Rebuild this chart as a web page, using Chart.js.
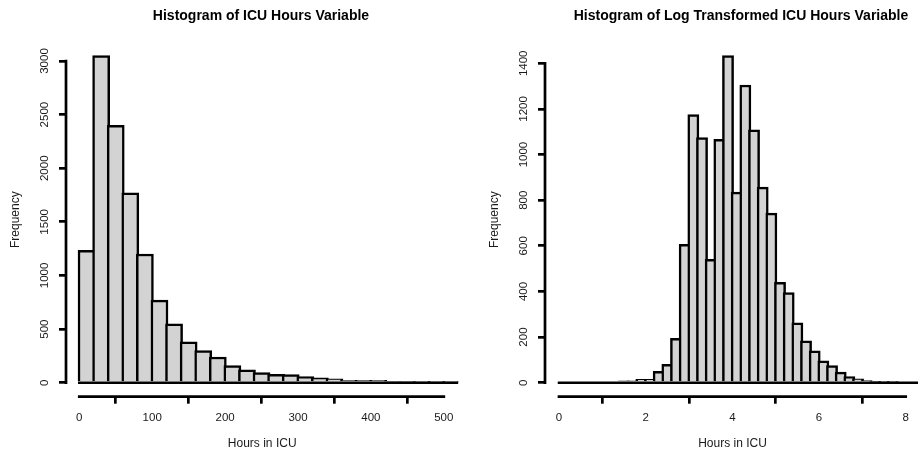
<!DOCTYPE html>
<html>
<head>
<meta charset="utf-8">
<script src="https://cdn.jsdelivr.net/npm/chart.js@4.4.1/dist/chart.umd.min.js"></script>
<style>
    html, body { margin: 0; padding: 0; background: #fff; overflow: hidden; width: 918px; height: 451px; }
    .painel { position: absolute; top: 0; height: 455px; }
</style>
</head>
<body>
<div class="painel" style="left:0; width:522px;"><canvas id="histHoras"></canvas></div>
<div class="painel" style="left:459px; width:564px;"><canvas id="histLog"></canvas></div>

<script>
// ===== DADOS: HORAS NA UTI (bins de 20) =====
const horasInicio = [0, 20, 40, 60, 80, 100, 120, 140, 160, 180, 200, 220, 240,
                     260, 280, 300, 320, 340, 360, 380, 400, 420, 440, 460, 480, 500];
const horasContagem = [1235, 3050, 2400, 1770, 1200, 770, 550, 380, 300, 240, 160, 120, 95,
                       78, 75, 58, 45, 35, 22, 22, 22, 12, 12, 5, 5, 5];
const horasTicksX = [0, 100, 200, 300, 400, 500];
const horasTicksY = [0, 500, 1000, 1500, 2000, 2500, 3000];

// ===== DADOS: LOG DAS HORAS (bins de 0.2) =====
const logInicio = [0, 0.2, 0.4, 0.6, 0.8, 1.0, 1.2, 1.4, 1.6, 1.8, 2.0, 2.2, 2.4, 2.6, 2.8,
                   3.0, 3.2, 3.4, 3.6, 3.8, 4.0, 4.2, 4.4, 4.6, 4.8, 5.0, 5.2, 5.4, 5.6, 5.8,
                   6.0, 6.2, 6.4, 6.6, 6.8, 7.0, 7.2, 7.4, 7.6, 7.8, 8.0, 8.2];
const logContagem = [0, 0, 0, 0, 0, 0, 0, 8, 8, 15, 15, 50, 80, 195, 607,
                     1175, 1074, 541, 1067, 1434, 835, 1305, 1108, 857, 743, 440, 395, 262, 183, 140,
                     96, 75, 46, 27, 17, 9, 5, 4, 3, 0, 0, 0];
const logTicksX = [0, 2, 4, 6, 8];
const logTicksY = [0, 200, 400, 600, 800, 1000, 1200, 1400];

// ===== ESTILO =====
const BORDA = 2.5;
const ALTURA = 455;          // altura do canvas (um pouco maior que a janela)
Chart.defaults.font.family = "'Liberation Sans', Arial, sans-serif";
Chart.defaults.color = '#1a1a1a';

// ===== FUNÇÃO QUE MONTA UM HISTOGRAMA =====
function criarHistograma(idCanvas, cfg) {
    const area = cfg.area;
    const pxPorUnidade = (area.right - area.left) / (cfg.xMax - cfg.xMin);
    const espessura = cfg.largura * pxPorUnidade + BORDA;   // barras se sobrepõem na borda

    const pontos = cfg.inicios.map((x0, i) => ({ x: x0 + cfg.largura / 2, y: cfg.contagens[i] }));

    // eixos no estilo R: linha só entre o primeiro e o último tick, + linha de base das barras
    const eixosR = {
        id: 'eixosR',
        afterDatasetsDraw(chart) {
            const { ctx, chartArea: ca, scales: { x, y } } = chart;
            const fim = cfg.inicios[cfg.inicios.length - 1] + cfg.largura;

            ctx.save();
            ctx.beginPath();
            ctx.rect(ca.left, ca.top, ca.right - ca.left, ca.bottom - ca.top);
            ctx.clip();
            ctx.strokeStyle = '#000';
            ctx.lineWidth = BORDA;
            ctx.beginPath();
            ctx.moveTo(x.getPixelForValue(cfg.inicios[0]) - BORDA / 2, y.getPixelForValue(0));
            ctx.lineTo(x.getPixelForValue(fim), y.getPixelForValue(0));
            ctx.stroke();
            ctx.restore();

            ctx.save();
            ctx.strokeStyle = '#000';
            ctx.lineWidth = 2.7;
            ctx.lineCap = 'square';
            ctx.beginPath();
            ctx.moveTo(ca.left, y.getPixelForValue(cfg.ticksY[0]));
            ctx.lineTo(ca.left, y.getPixelForValue(cfg.ticksY[cfg.ticksY.length - 1]));
            ctx.moveTo(x.getPixelForValue(cfg.ticksX[0]), ca.bottom);
            ctx.lineTo(x.getPixelForValue(cfg.ticksX[cfg.ticksX.length - 1]), ca.bottom);
            ctx.stroke();
            ctx.restore();
        }
    };

    const gradeTicks = { display: true, drawOnChartArea: false, drawTicks: true, tickLength: 7, color: '#000', lineWidth: 2.7 };

    return new Chart(document.getElementById(idCanvas), {
        type: 'bar',
        data: {
            datasets: [{
                data: pontos,
                xAxisID: 'x',
                yAxisID: 'y',
                backgroundColor: '#d3d3d3',
                borderColor: '#000',
                borderWidth: BORDA,
                borderSkipped: 'start',
                barThickness: espessura,
                clip: 0
            }]
        },
        options: {
            responsive: true,
            maintainAspectRatio: false,
            animation: false,
            layout: { padding: 0 },
            plugins: {
                legend: { display: false },
                tooltip: { enabled: false },
                title: {
                    display: true,
                    text: cfg.titulo,
                    color: '#000',
                    font: { size: 14, weight: 'bold' },
                    padding: { top: 8, bottom: area.top - 8 - 16.8 }
                }
            },
            scales: {
                x: {
                    type: 'linear',
                    min: cfg.xMin,
                    max: cfg.xMax,
                    offset: false,
                    afterBuildTicks: s => { s.ticks = cfg.ticksX.map(v => ({ value: v })); },
                    afterFit: s => { s.height = ALTURA - area.bottom; },
                    grid: gradeTicks,
                    border: { display: false },
                    ticks: { autoSkip: false, maxRotation: 0, minRotation: 0, padding: 7,
                             font: { size: 11.5 }, callback: v => String(v) },
                    title: { display: true, text: 'Hours in ICU', font: { size: 12 }, padding: { top: 0, bottom: 4 } }
                },
                y: {
                    type: 'linear',
                    min: cfg.yMin,
                    max: cfg.yMax,
                    afterBuildTicks: s => { s.ticks = cfg.ticksY.map(v => ({ value: v })); },
                    afterFit: s => { s.width = area.left; },
                    grid: gradeTicks,
                    border: { display: false },
                    ticks: { autoSkip: false, minRotation: 90, maxRotation: 90, crossAlign: 'center', padding: 1,
                             font: { size: 11.5 }, callback: v => String(v) },
                    title: { display: true, text: 'Frequency', font: { size: 12 },
                             padding: { top: area.left - 50 - 7.2, bottom: 0 } }
                },
                // eixo vazio à direita só para reservar espaço (centraliza o título)
                direita: {
                    type: 'linear',
                    position: 'right',
                    grid: { display: false },
                    border: { display: false },
                    ticks: { display: false },
                    afterFit: s => { s.width = cfg.larguraCanvas - area.right; }
                }
            }
        },
        plugins: [eixosR]
    });
}

// ===== GRÁFICOS =====
criarHistograma('histHoras', {
    titulo: 'Histogram of ICU Hours Variable',
    inicios: horasInicio,
    contagens: horasContagem,
    largura: 20,
    ticksX: horasTicksX,
    ticksY: horasTicksY,
    xMin: -18.2, xMax: 520,
    yMin: -130.6, yMax: 3170.7,
    area: { left: 66, right: 458.4, top: 42.7, bottom: 396.7 },
    larguraCanvas: 522
});

criarHistograma('histLog', {
    titulo: 'Histogram of Log Transformed ICU Hours Variable',
    inicios: logInicio,
    contagens: logContagem,
    largura: 0.2,
    ticksX: logTicksX,
    ticksY: logTicksY,
    xMin: -0.323, xMax: 8.33,
    yMin: -61.4, yMax: 1490.3,
    area: { left: 86, right: 461, top: 42.7, bottom: 396.7 },
    larguraCanvas: 564
});
</script>
</body>
</html>
